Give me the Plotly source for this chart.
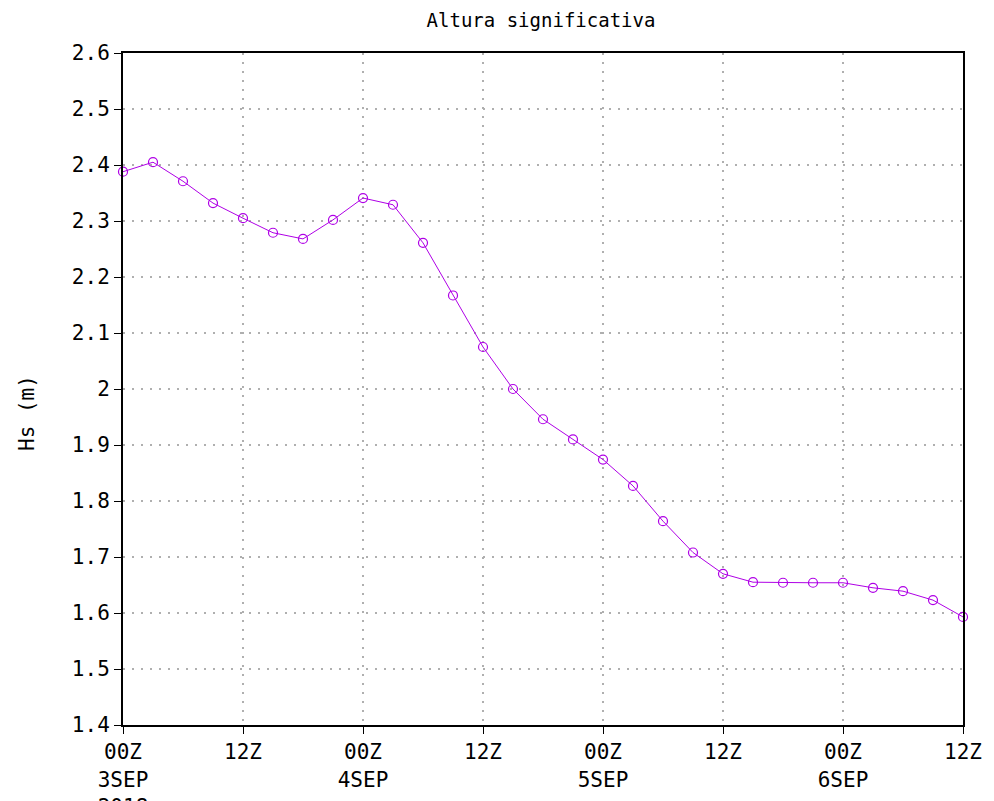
import plotly.graph_objects as go

# Hours since 00Z 3 SEP 2018 (3-hourly)
hours = [0, 3, 6, 9, 12, 15, 18, 21, 24, 27, 30, 33, 36, 39, 42, 45, 48, 51, 54, 57, 60, 63, 66, 69, 72, 75, 78, 81, 84]
hs = [2.388, 2.405, 2.371, 2.332, 2.305, 2.279, 2.268, 2.302, 2.341, 2.329, 2.261, 2.167, 2.075, 2.000, 1.946,
      1.910, 1.874, 1.827, 1.764, 1.708, 1.670, 1.655, 1.654, 1.654, 1.654, 1.645, 1.639, 1.623, 1.593]

x_tickvals = [0, 12, 24, 36, 48, 60, 72, 84]
x_ticktext = ["00Z<br>3SEP<br>2018", "12Z", "00Z<br>4SEP", "12Z", "00Z<br>5SEP", "12Z", "00Z<br>6SEP", "12Z"]
y_tickvals = [1.4, 1.5, 1.6, 1.7, 1.8, 1.9, 2.0, 2.1, 2.2, 2.3, 2.4, 2.5, 2.6]
y_ticktext = ["1.4", "1.5", "1.6", "1.7", "1.8", "1.9", "2", "2.1", "2.2", "2.3", "2.4", "2.5", "2.6"]

color = "rgb(175,0,230)"
font_family = "DejaVu Sans Mono"

# figure size compensates for the 8px default page margin
W, H = 986, 793
L, T, R, B = 115, 45, 31, 76

fig = go.Figure()
fig.add_trace(go.Scatter(
    x=hours, y=hs, mode="lines+markers",
    line=dict(color=color, width=1),
    marker=dict(symbol="circle-open", size=9, color=color, line=dict(width=1.2, color=color)),
    cliponaxis=False, showlegend=False,
))

axis_common = dict(
    showline=True, mirror=True, linecolor="black", linewidth=2,
    ticks="outside", ticklen=7, tickcolor="black", tickwidth=1,
    showgrid=True, gridcolor="rgb(175,175,175)", griddash="2px,7px", gridwidth=1.5,
    zeroline=False, automargin=False,
    tickfont=dict(family=font_family, size=21, color="black"),
)

fig.update_xaxes(range=[0, 84], tickmode="array", tickvals=x_tickvals, ticktext=x_ticktext, **axis_common)
fig.update_yaxes(range=[1.4, 2.6], tickmode="array", tickvals=y_tickvals, ticktext=y_ticktext, **axis_common)

plot_w = W - L - R
plot_h = H - T - B

fig.update_layout(
    width=W, height=H,
    margin=dict(l=L, r=R, t=T, b=B, pad=0),
    plot_bgcolor="white", paper_bgcolor="white",
    title=dict(text="Altura significativa", xref="container", x=533 / W, xanchor="center",
               yref="container", y=1 - 12 / H, yanchor="middle",
               font=dict(family=font_family, size=19, color="black")),
    annotations=[dict(text="Hs (m)", textangle=-90,
                      x=(19 - L) / plot_w, y=(H - B - 405) / plot_h,
                      xref="paper", yref="paper", xanchor="center", yanchor="middle",
                      showarrow=False, font=dict(family=font_family, size=21, color="black"))],
)

fig.write_html("out.html")
